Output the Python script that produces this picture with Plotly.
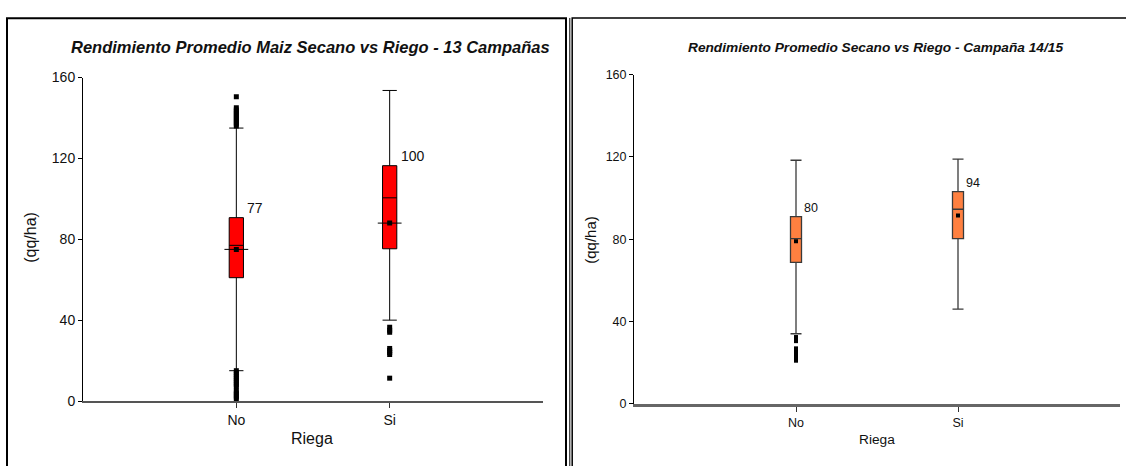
import plotly.graph_objects as go

W, H = 1126, 466

categories = ["No", "Si"]

# Panel 1: 13 campañas
q1_13 = [61.0, 75.3]
median_13 = [77.0, 100.5]
q3_13 = [90.7, 116.4]
lowfence_13 = [15.0, 40.0]
upfence_13 = [135.0, 153.6]
mean_13 = [75.0, 88.0]
labels_13 = ["77", "100"]
out_no_13 = [150.5, 145, 144, 143, 142, 141, 140, 139, 138, 137, 136,
             15, 14, 13, 12, 11, 10, 9, 8, 7, 5, 4, 3, 2, 1]
out_si_13 = [36.5, 35, 34, 26, 25, 24, 23, 11.3]

# Panel 2: campaña 14/15
q1_14 = [68.8, 80.3]
median_14 = [80.3, 94.6]
q3_14 = [91.0, 103.2]
lowfence_14 = [34.1, 46.1]
upfence_14 = [118.4, 118.9]
mean_14 = [79.0, 91.5]
labels_14 = ["80", "94"]
out_no_14 = [32.5, 31.5, 30.5, 27, 26, 25, 24, 23, 22, 21]

yticks = [0, 40, 80, 120, 160]

FONT = "Liberation Sans, Arial, sans-serif"
RED = "#FF0000"
ORANGE = "#FF8040"


def px_x(p):
    return p / W


def px_y(p):
    return 1 - p / H


fig = go.Figure()

# ---------- left panel ----------
fig.add_trace(go.Box(
    x=categories, q1=q1_13, median=median_13, q3=q3_13,
    lowerfence=lowfence_13, upperfence=upfence_13,
    boxpoints=False, width=0.093, whiskerwidth=1,
    fillcolor=RED, line=dict(color="black", width=1),
    xaxis="x", yaxis="y", showlegend=False, hoverinfo="skip"))
fig.add_trace(go.Scatter(
    x=[categories[0]] * len(out_no_13) + [categories[1]] * len(out_si_13),
    y=out_no_13 + out_si_13, mode="markers",
    marker=dict(symbol="square", size=5, color="black"),
    xaxis="x", yaxis="y", showlegend=False, hoverinfo="skip"))
fig.add_trace(go.Scatter(
    x=categories, y=mean_13, mode="markers",
    marker=dict(symbol="line-ew", size=17, line=dict(color="black", width=1)),
    xaxis="x", yaxis="y", showlegend=False, hoverinfo="skip"))
fig.add_trace(go.Scatter(
    x=categories, y=mean_13, mode="markers",
    marker=dict(symbol="square", size=5, color="black"),
    xaxis="x", yaxis="y", showlegend=False, hoverinfo="skip"))

# ---------- right panel ----------
fig.add_trace(go.Box(
    x=categories, q1=q1_14, median=median_14, q3=q3_14,
    lowerfence=lowfence_14, upperfence=upfence_14,
    boxpoints=False, width=0.068, whiskerwidth=1,
    fillcolor=ORANGE, line=dict(color="#3a3a3a", width=1.3),
    xaxis="x2", yaxis="y2", showlegend=False, hoverinfo="skip"))
fig.add_trace(go.Scatter(
    x=[categories[0]] * len(out_no_14), y=out_no_14, mode="markers",
    marker=dict(symbol="square", size=4, color="black"),
    xaxis="x2", yaxis="y2", showlegend=False, hoverinfo="skip"))
fig.add_trace(go.Scatter(
    x=categories, y=mean_14, mode="markers",
    marker=dict(symbol="square", size=4, color="black"),
    xaxis="x2", yaxis="y2", showlegend=False, hoverinfo="skip"))

axis_common = dict(showgrid=False, zeroline=False, showline=True,
                   ticks="outside", mirror=False, fixedrange=True)

fig.update_layout(
    width=W, height=H, autosize=False,
    margin=dict(l=0, r=0, t=0, b=0),
    paper_bgcolor="white", plot_bgcolor="white",
    font=dict(family=FONT, color="#111111"),
    xaxis=dict(domain=[px_x(83), px_x(543)], range=[-1, 2], anchor="y",
               linecolor="#555555", linewidth=2, ticklen=5, tickcolor="#333333",
               tickfont=dict(size=14, family=FONT, color="#111"), **axis_common),
    yaxis=dict(domain=[px_y(407), px_y(72)], range=[0, 160], anchor="x",
               tickvals=yticks, linecolor="black", linewidth=1, ticklen=4,
               tickcolor="black", tickfont=dict(size=14, family=FONT, color="#111"),
               **axis_common),
    xaxis2=dict(domain=[px_x(634), px_x(1120)], range=[-1, 2], anchor="y2",
                linecolor="#666666", linewidth=2.5, ticklen=5, tickcolor="#333333",
                tickfont=dict(size=12.5, family=FONT, color="#111"), **axis_common),
    yaxis2=dict(domain=[px_y(410), px_y(69)], range=[0, 160], anchor="x2",
                tickvals=yticks, linecolor="black", linewidth=1, ticklen=4,
                tickcolor="black", tickfont=dict(size=12.5, family=FONT, color="#111"),
                **axis_common),
)

annotations = []


def paper_text(text, x, y, size, angle=0):
    return dict(text=text, x=px_x(x), y=px_y(y), xref="paper", yref="paper",
                xanchor="center", yanchor="middle", showarrow=False, textangle=angle,
                font=dict(size=size, family=FONT, color="#111"))


# titles
annotations.append(paper_text("<b><i>Rendimiento Promedio Maiz Secano vs Riego - 13 Campañas</i></b>",
                              310, 40, 16.5))
annotations.append(paper_text("<b><i>Rendimiento Promedio Secano vs Riego - Campaña 14/15</i></b>",
                              875, 41, 13.7))
# axis titles
annotations.append(paper_text("(qq/ha)", 31, 238, 16, -90))
annotations.append(paper_text("(qq/ha)", 591, 240, 15, -90))
annotations.append(paper_text("Riega", 312, 446, 16))
annotations.append(paper_text("Riega", 877, 447, 13.7))
# value labels
for cat, q3, lab in zip(categories, q3_13, labels_13):
    annotations.append(dict(text=lab, x=cat, y=q3, xref="x", yref="y", showarrow=False,
                            xanchor="left", yanchor="bottom", xshift=9, yshift=0,
                            font=dict(size=14, family=FONT, color="#111")))
for cat, q3, lab in zip(categories, q3_14, labels_14):
    annotations.append(dict(text=lab, x=cat, y=q3, xref="x2", yref="y2", showarrow=False,
                            xanchor="left", yanchor="bottom", xshift=6, yshift=0,
                            font=dict(size=12.5, family=FONT, color="#111")))
fig.update_layout(annotations=annotations)

# panel frames
shapes = [
    dict(type="rect", xref="paper", yref="paper", x0=px_x(7), x1=px_x(566),
         y0=-0.05, y1=px_y(10.5), line=dict(color="black", width=2)),
    dict(type="rect", xref="paper", yref="paper", x0=px_x(572.2), x1=1.05,
         y0=-0.05, y1=px_y(10.3), line=dict(color="black", width=1.5)),
    dict(type="line", xref="paper", yref="paper", x0=px_x(569.8), x1=px_x(569.8),
         y0=-0.05, y1=px_y(10.3), line=dict(color="black", width=1)),
]
fig.update_layout(shapes=shapes)

fig.write_html(
    "out.html",
    config={"displayModeBar": False, "responsive": False},
    post_script="document.body.style.margin='0';document.body.style.overflow='hidden';"
                "document.documentElement.style.overflow='hidden';",
)
